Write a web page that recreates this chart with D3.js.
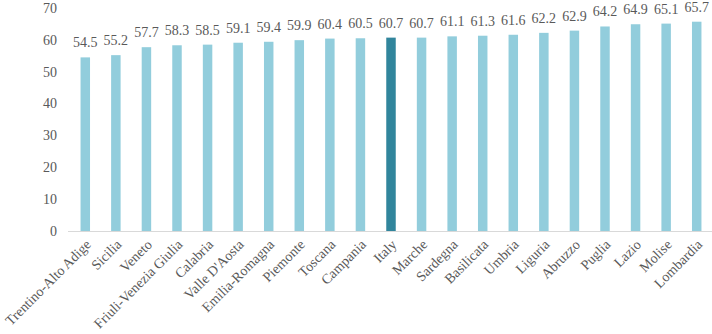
<!DOCTYPE html>
<html>
<head>
<meta charset="utf-8">
<script src="https://cdn.jsdelivr.net/npm/d3@7"></script>
<style>
  body { margin: 0; background: #fff; }
  svg text { font-family: "Times New Roman", "Liberation Serif", Times, serif; fill: #595959; }
</style>
</head>
<body>
<svg id="chart" width="712" height="334"></svg>
<script>
const regions = ["Trentino-Alto Adige", "Sicilia", "Veneto", "Friuli-Venezia Giulia", "Calabria",
  "Valle D'Aosta", "Emilia-Romagna", "Piemonte", "Toscana", "Campania", "Italy", "Marche",
  "Sardegna", "Basilicata", "Umbria", "Liguria", "Abruzzo", "Puglia", "Lazio", "Molise", "Lombardia"];
const values = [54.5, 55.2, 57.7, 58.3, 58.5, 59.1, 59.4, 59.9, 60.4, 60.5, 60.7, 60.7,
  61.1, 61.3, 61.6, 62.2, 62.9, 64.2, 64.9, 65.1, 65.7];
const yTicks = [0, 10, 20, 30, 40, 50, 60, 70];
const highlight = "Italy";

const data = regions.map((r, i) => ({ region: r, value: values[i] }));

const svg = d3.select("#chart");
const plotLeft = 70, plotRight = 712, plotTop = 8, plotBottom = 231;

const x = d3.scaleBand().domain(regions).range([plotLeft, plotRight]).paddingInner(0.69).paddingOuter(0.345);
const y = d3.scaleLinear().domain([0, 70]).range([plotBottom, plotTop]);

// y tick labels
svg.append("g").selectAll("text")
  .data(yTicks)
  .join("text")
  .attr("x", 57)
  .attr("y", d => y(d))
  .attr("dy", "0.35em")
  .attr("text-anchor", "end")
  .style("font-size", "14px")
  .text(d => d);

// bars
svg.append("g").selectAll("rect")
  .data(data)
  .join("rect")
  .attr("x", d => x(d.region))
  .attr("width", x.bandwidth())
  .attr("y", d => y(d.value))
  .attr("height", d => y(0) - y(d.value))
  .attr("fill", d => d.region === highlight ? "#31859c" : "#92cddc");

// baseline
svg.append("line")
  .attr("x1", plotLeft - 2).attr("x2", plotRight)
  .attr("y1", y(0) + 0.5).attr("y2", y(0) + 0.5)
  .attr("stroke", "#d9d9d9");

// value labels
svg.append("g").selectAll("text")
  .data(data)
  .join("text")
  .attr("x", d => x(d.region) + x.bandwidth() / 2)
  .attr("y", d => y(d.value) - 10)
  .attr("text-anchor", "middle")
  .style("font-size", "14px")
  .text(d => d.value.toFixed(1));

// category labels
svg.append("g").selectAll("text")
  .data(regions)
  .join("text")
  .attr("transform", d => `translate(${x(d) + x.bandwidth() / 2 + 3},${y(0) + 11}) rotate(-45)`)
  .attr("text-anchor", "end")
  .attr("dy", "0.35em")
  .style("font-size", "14px")
  .text(d => d);
</script>
</body>
</html>
